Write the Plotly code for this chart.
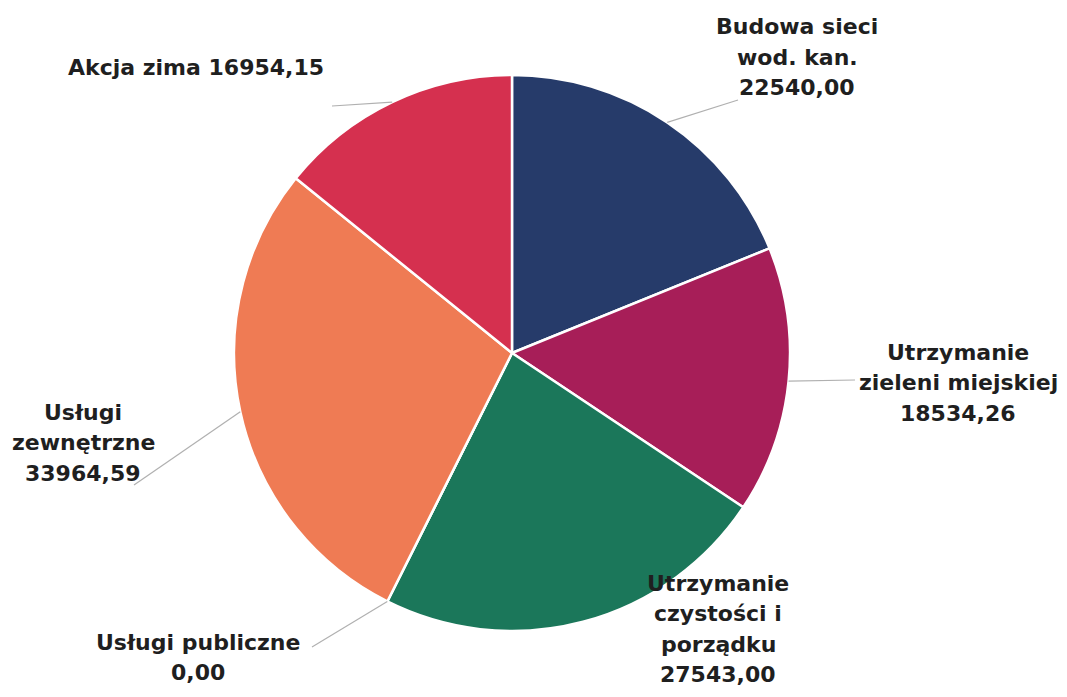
import math
import plotly.graph_objects as go

# ---- data ----
categories = [
    "Budowa sieci wod. kan.",
    "Utrzymanie zieleni miejskiej",
    "Utrzymanie czystości i porządku",
    "Usługi publiczne",
    "Usługi zewnętrzne",
    "Akcja zima",
]
values = [22540.00, 18534.26, 27543.00, 0.00, 33964.59, 16954.15]
label_lines = [
    ["Budowa sieci", "wod. kan.", "22540,00"],
    ["Utrzymanie", "zieleni miejskiej", "18534,26"],
    ["Utrzymanie", "czystości i", "porządku", "27543,00"],
    ["Usługi publiczne", "0,00"],
    ["Usługi", "zewnętrzne", "33964,59"],
    ["Akcja zima 16954,15"],
]
colors = ["#263b6a", "#a71e58", "#1b775a", "#8a8a8a", "#ef7b54", "#d5304f"]

# ---- layout / styling ----
W, H = 1067, 697
CX, CY, R = 512, 353, 278
# label placement (pixel): centre x, first line y, connector outer end (or None)
label_pos = [
    (797, 27, (738, 100)),
    (958, 352, (855, 380)),
    (718, 583, None),
    (198, 642, (312, 647)),
    (83, 412, (134, 485)),
    (196, 68, (332, 106)),
]
LINE_H = 30.5

fig = go.Figure(go.Pie(
    labels=categories,
    values=values,
    sort=False,
    direction="clockwise",
    rotation=0,
    marker=dict(colors=colors, line=dict(color="white", width=2.5)),
    textinfo="none",
    hoverinfo="label+value",
    showlegend=False,
    domain=dict(x=[(CX - R) / W, (CX + R) / W], y=[1 - (CY + R) / H, 1 - (CY - R) / H]),
))

total = sum(values)
cum = 0.0
shapes = []
annotations = []
for v, lines, (lx, ly, end) in zip(values, label_lines, label_pos):
    mid = (cum + v / 2) / total * 2 * math.pi
    cum += v
    ex = CX + R * math.sin(mid)
    ey = CY - R * math.cos(mid)
    if end is not None:
        shapes.append(dict(type="line", xref="paper", yref="paper",
                           x0=ex / W, y0=1 - ey / H, x1=end[0] / W, y1=1 - end[1] / H,
                           line=dict(color="#b0b0b0", width=1.2)))
    for i, t in enumerate(lines):
        y = ly + i * LINE_H
        annotations.append(dict(text="<b>" + t + "</b>", x=lx / W, y=1 - y / H,
                                xref="paper", yref="paper", xanchor="center", yanchor="middle",
                                showarrow=False,
                                font=dict(family="DejaVu Sans", size=22, color="#1f1f1f")))

fig.update_layout(
    width=W, height=H,
    margin=dict(l=0, r=0, t=0, b=0),
    paper_bgcolor="white", plot_bgcolor="white",
    shapes=shapes, annotations=annotations,
)
fig.write_html("out.html", config={"displayModeBar": False},
               post_script="document.body.style.margin='0';document.body.style.padding='0';")
